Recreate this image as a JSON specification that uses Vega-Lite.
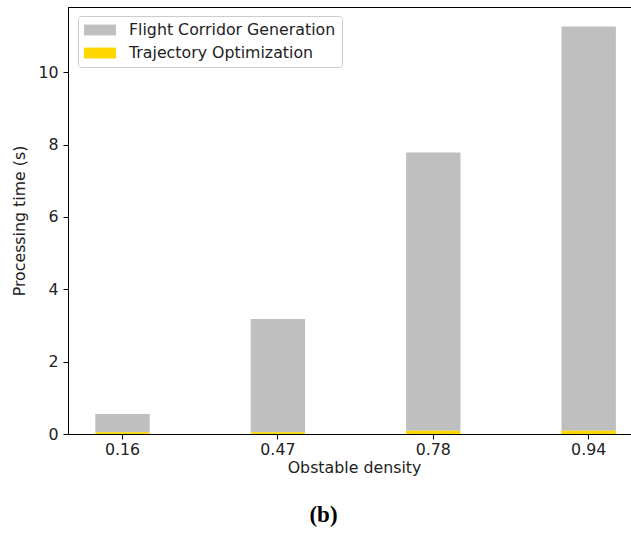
{
  "$schema": "https://vega.github.io/schema/vega-lite/v6.json",
  "autosize": {"type": "none"},
  "width": 563,
  "height": 427,
  "padding": {"left": 68, "top": 7, "right": 0, "bottom": 101},
  "background": "white",
  "config": {
    "font": "DejaVu Sans",
    "view": {"stroke": "black", "strokeWidth": 1}
  },
  "title": {
    "text": "(b)",
    "orient": "bottom",
    "anchor": "middle",
    "dx": -26,
    "offset": 28,
    "font": "Liberation Serif",
    "fontSize": 23,
    "fontWeight": "bold",
    "color": "black"
  },
  "data": {
    "values": [
      {"density": "0.16", "series": "Flight Corridor Generation", "time": 0.50},
      {"density": "0.16", "series": "Trajectory Optimization", "time": 0.05},
      {"density": "0.47", "series": "Flight Corridor Generation", "time": 3.13},
      {"density": "0.47", "series": "Trajectory Optimization", "time": 0.05},
      {"density": "0.78", "series": "Flight Corridor Generation", "time": 7.69},
      {"density": "0.78", "series": "Trajectory Optimization", "time": 0.09},
      {"density": "0.94", "series": "Flight Corridor Generation", "time": 11.17},
      {"density": "0.94", "series": "Trajectory Optimization", "time": 0.09}
    ]
  },
  "mark": {"type": "bar"},
  "encoding": {
    "x": {
      "field": "density",
      "type": "ordinal",
      "scale": {"paddingInner": 0.65, "paddingOuter": 0.1365, "align": 0.644},
      "axis": {
        "title": "Obstable density",
        "labelAngle": 0,
        "labelFontSize": 15.8,
        "titleFontSize": 15.8,
        "titleFontWeight": "normal",
        "labelColor": "#222",
        "titleColor": "#222",
        "domainColor": "black",
        "tickColor": "black",
        "tickSize": 5,
        "labelPadding": 3,
        "titlePadding": 4,
        "titleX": 286
      }
    },
    "y": {
      "field": "time",
      "type": "quantitative",
      "stack": "zero",
      "scale": {"domain": [0, 11.8], "nice": false},
      "axis": {
        "title": "Processing time (s)",
        "values": [0, 2, 4, 6, 8, 10],
        "grid": false,
        "labelFontSize": 15.8,
        "titleFontSize": 15.8,
        "titleFontWeight": "normal",
        "labelColor": "#222",
        "titleColor": "#222",
        "domainColor": "black",
        "tickColor": "black",
        "tickSize": 5,
        "labelPadding": 5,
        "titlePadding": 10
      }
    },
    "color": {
      "field": "series",
      "type": "nominal",
      "scale": {
        "domain": ["Flight Corridor Generation", "Trajectory Optimization"],
        "range": ["#bfbfbf", "#ffd700"]
      },
      "legend": {
        "title": null,
        "orient": "none",
        "legendX": 10,
        "legendY": 9,
        "symbolType": "M-2,-0.68H2V0.68H-2Z",
        "symbolSize": 256,
        "symbolStrokeWidth": 0,
        "symbolOpacity": 1,
        "symbolOffset": 8,
        "labelOffset": 21,
        "labelFontSize": 15.8,
        "labelColor": "#222",
        "rowPadding": 7,
        "padding": 6,
        "strokeColor": "#cccccc",
        "fillColor": "white",
        "cornerRadius": 3,
        "labelLimit": 400
      }
    },
    "order": {"field": "series", "sort": "descending"}
  }
}
